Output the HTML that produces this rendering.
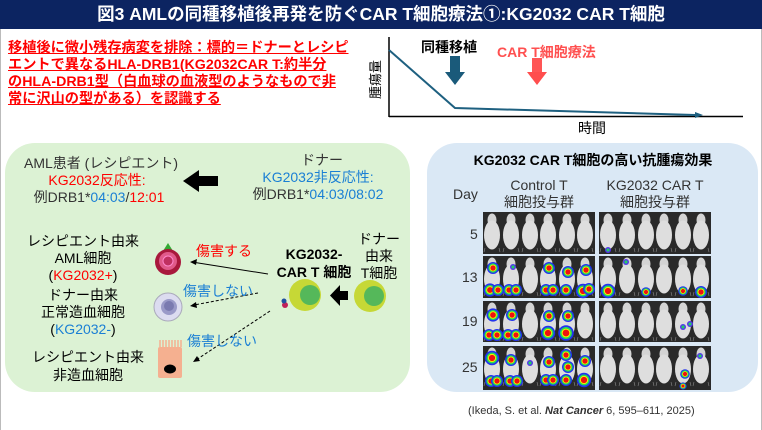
<!DOCTYPE html>
<html><head><meta charset="utf-8">
<style>
body{margin:0;width:762px;height:430px;overflow:hidden;background:#fff;font-family:"Liberation Sans","Noto Sans CJK JP",sans-serif;position:relative}
.hd{position:absolute;left:0;top:0;width:762px;height:29px;background:#0c2461;color:#fff;font-weight:bold;font-size:17.5px;text-align:center;line-height:29px}
.t{position:absolute;white-space:nowrap}
.c{position:absolute;white-space:nowrap;text-align:center;transform:translateX(-50%)}
.red{color:#f00}.blue{color:#1a7fd4}
.lead{position:absolute;left:8px;top:40px;color:#f00;font-weight:bold;font-size:14.2px;line-height:17px;text-decoration:underline}
</style></head><body>
<div class="hd">図3 AMLの同種移植後再発を防ぐCAR T細胞療法①:KG2032 CAR T細胞</div>
<div style="position:absolute;left:0;top:29px;width:1px;height:401px;background:#bbb"></div>
<div style="position:absolute;right:0;top:29px;width:1px;height:401px;background:#bbb"></div>
<div class="lead">移植後に微小残存病変を排除：標的＝ドナーとレシピ<br>エントで異なるHLA-DRB1(KG2032CAR T:約半分<br>のHLA-DRB1型（白血球の血液型のようなもので非<br>常に沢山の型がある）を認識する</div>
<div style="position:absolute;left:5px;top:143px;width:405px;height:249px;background:#dcf2d4;border-radius:30px"></div>
<div style="position:absolute;left:427px;top:143px;width:331px;height:249px;background:#dae8f5;border-radius:30px"></div>

<svg width="762" height="430" style="position:absolute;left:0;top:0">
<defs>
<symbol id="m" viewBox="0 0 18 42" overflow="visible"><ellipse cx="9" cy="8" rx="4.5" ry="6.5" fill="#d4d4d4"/><ellipse cx="9" cy="23" rx="8" ry="14.5" fill="#dedede"/><path d="M2 36 L1 40 M16 36 L17 40" stroke="#888" stroke-width=".6"/></symbol>
<g id="h"><circle r="6" fill="#2233ee"/><circle r="4.6" fill="#22dd55"/><circle r="3.4" fill="#ffee00"/><circle r="2.6" fill="#ee1111"/></g>
<g id="hs"><circle r="3" fill="#5533ee"/><circle r="1.6" fill="#22cc66"/></g>
</defs>
<line x1="389" y1="37" x2="389" y2="117" stroke="#000" stroke-width="1.5"/>
<line x1="389" y1="116.5" x2="743" y2="116.5" stroke="#000" stroke-width="1.5"/>
<polyline points="389,50 455,108 695,115" fill="none" stroke="#1e6080" stroke-width="2"/>
<path d="M695,112 L703,115 L695,118Z" fill="#1e6080"/>
<rect x="450" y="56" width="10" height="17" fill="#1a5a7a"/><path d="M445,72 L465,72 L455,85Z" fill="#1a5a7a"/>
<rect x="532" y="58" width="10" height="15" fill="#ff5555"/><path d="M527,72 L547,72 L537,85Z" fill="#ff4d4d"/>
<rect x="196" y="176" width="22" height="10" fill="#000"/><path d="M199,170 L183,181 L199,192Z" fill="#000"/>
<rect x="338" y="291" width="10" height="9" fill="#000"/><path d="M340,285 L330,295.5 L340,306Z" fill="#000"/>
<line x1="268" y1="274" x2="192" y2="262" stroke="#000" stroke-width="1"/><path d="M190,262 L197,259 L196,265Z" fill="#000"/>
<line x1="258" y1="293" x2="194" y2="305" stroke="#000" stroke-dasharray="3,2"/><path d="M190,306 L196,302 L197,308Z" fill="#000"/>
<line x1="270" y1="311" x2="196" y2="360" stroke="#000" stroke-dasharray="3,2"/><path d="M193,362 L197,356 L200,361Z" fill="#000"/>
<path d="M163,251 L168,243 L173,251Z" fill="#33aa33"/>
<circle cx="168" cy="262" r="13" fill="#a8183c"/><circle cx="168" cy="261" r="9" fill="#e05a8a"/><circle cx="168" cy="261" r="5" fill="#c03060" stroke="#f8c" />
<circle cx="168" cy="307" r="14" fill="#dcdcf0" stroke="#aab" /><circle cx="169" cy="307" r="8" fill="#9a9ac8"/><circle cx="169" cy="306" r="5" fill="#7a7ab0"/>
<rect x="158" y="347" width="24" height="31" rx="2" fill="#f5b090"/><path d="M160,340 v7 M163,340 v7 M166,340 v7 M169,340 v7 M172,340 v7 M175,340 v7 M178,340 v7 M181,340 v7" stroke="#f5b090" stroke-width="1.5"/><ellipse cx="170" cy="369" rx="6" ry="4.5" fill="#000"/>
<circle cx="305" cy="295" r="16" fill="#c6d836"/><circle cx="310" cy="295" r="10" fill="#55b85a"/>
<circle cx="285" cy="305" r="3" fill="#c0205a"/><circle cx="284" cy="301" r="2.5" fill="#2050a0"/>
<circle cx="370" cy="296" r="16" fill="#c6d836"/><circle cx="374" cy="296" r="10" fill="#55b85a"/>
<g>
<rect x="483" y="212" width="112" height="42" fill="#2a2a2a"/><rect x="599" y="212" width="112" height="42" fill="#2a2a2a"/>
<rect x="483" y="256" width="112" height="42" fill="#2a2a2a"/><rect x="599" y="256" width="112" height="42" fill="#2a2a2a"/>
<rect x="483" y="301" width="112" height="41" fill="#2a2a2a"/><rect x="599" y="301" width="112" height="41" fill="#2a2a2a"/>
<rect x="483" y="346" width="112" height="44" fill="#2a2a2a"/><rect x="599" y="346" width="112" height="44" fill="#2a2a2a"/>
</g>
<g id="row">
<use href="#m" x="483" y="212" width="18" height="42"/><use href="#m" x="502" y="212" width="18" height="42"/><use href="#m" x="521" y="212" width="18" height="42"/><use href="#m" x="539" y="212" width="18" height="42"/><use href="#m" x="558" y="212" width="18" height="42"/><use href="#m" x="576" y="212" width="18" height="42"/>
<use href="#m" x="599" y="212" width="18" height="42"/><use href="#m" x="618" y="212" width="18" height="42"/><use href="#m" x="637" y="212" width="18" height="42"/><use href="#m" x="655" y="212" width="18" height="42"/><use href="#m" x="674" y="212" width="18" height="42"/><use href="#m" x="692" y="212" width="18" height="42"/>
</g>
<use href="#row" y="44"/><use href="#row" y="89"/><use href="#row" y="134"/>
<use href="#h" transform="translate(490,290) scale(1.1)"/><use href="#h" transform="translate(498,290)"/><use href="#h" transform="translate(493,268)"/>
<use href="#h" transform="translate(509,290)"/><use href="#h" transform="translate(516,290)"/><use href="#hs" transform="translate(513,267)"/>
<use href="#h" transform="translate(546,290)"/><use href="#h" transform="translate(553,290)"/><use href="#h" transform="translate(549,268)"/>
<use href="#h" transform="translate(566,290)"/><use href="#h" transform="translate(568,272)"/>
<use href="#h" transform="translate(583,291) scale(1.2)"/><use href="#h" transform="translate(589,289)"/><use href="#h" transform="translate(586,270)"/>
<use href="#h" transform="translate(489,335)"/><use href="#h" transform="translate(497,335)"/><use href="#h" transform="translate(493,315) scale(1.1)"/>
<use href="#h" transform="translate(508,335)"/><use href="#h" transform="translate(516,335)"/><use href="#h" transform="translate(512,315)"/>
<use href="#h" transform="translate(548,333) scale(1.2)"/><use href="#h" transform="translate(549,316)"/>
<use href="#h" transform="translate(566,333) scale(1.3)"/><use href="#h" transform="translate(568,316)"/>
<use href="#h" transform="translate(492,358) scale(1.2)"/><use href="#h" transform="translate(491,381)"/><use href="#h" transform="translate(497,381)"/>
<use href="#h" transform="translate(511,360)"/><use href="#h" transform="translate(510,381)"/><use href="#h" transform="translate(517,381)"/>
<use href="#hs" transform="translate(530,363)"/>
<use href="#h" transform="translate(546,380)"/><use href="#h" transform="translate(553,380)"/><use href="#h" transform="translate(549,362)"/>
<use href="#h" transform="translate(566,380)"/><use href="#h" transform="translate(568,367)"/><use href="#h" transform="translate(566,355)"/>
<use href="#h" transform="translate(584,380) scale(1.2)"/><use href="#h" transform="translate(585,361)"/>
<use href="#hs" transform="translate(608,250)"/>
<use href="#h" transform="translate(608,291) scale(1.2)"/><use href="#hs" transform="translate(626,262)"/><use href="#h" transform="translate(646,292) scale(.8)"/><use href="#h" transform="translate(683,291) scale(.8)"/><use href="#h" transform="translate(701,292)"/>
<use href="#hs" transform="translate(683,327)"/><use href="#hs" transform="translate(690,324)"/>
<use href="#h" transform="translate(685,374) scale(.8)"/><use href="#h" transform="translate(683,386) scale(.6)"/><use href="#hs" transform="translate(700,356)"/>
</svg>

<div class="t" style="left:421px;top:37px;font-weight:bold;font-size:14px">同種移植</div>
<div class="t" style="left:497px;top:42px;font-weight:bold;font-size:14px;color:#ff5050">CAR T細胞療法</div>
<div class="t" style="left:355px;top:70px;font-size:13px;transform:rotate(-90deg)">腫瘍量</div>
<div class="t" style="left:578px;top:118px;font-size:14px">時間</div>

<div style="font-size:14px;color:#333">
<div class="c" style="left:101px;top:153px">AML患者 (レシピエント)</div>
<div class="c red" style="left:97px;top:170px">KG2032反応性:</div>
<div class="c" style="left:99px;top:187px">例DRB1*<span class="blue">04:03</span>/<span class="red">12:01</span></div>
<div class="c" style="left:322px;top:150px">ドナー</div>
<div class="c blue" style="left:318px;top:167px">KG2032非反応性:</div>
<div class="c" style="left:318px;top:184px">例DRB1*<span class="blue">04:03/08:02</span></div>
<div class="c" style="left:83px;top:233px;color:#000;line-height:17px">レシピエント由来<br>AML細胞<br>(<span class="red">KG2032+</span>)</div>
<div class="c" style="left:83px;top:287px;color:#000;line-height:17px">ドナー由来<br>正常造血細胞<br>(<span class="blue">KG2032-</span>)</div>
<div class="c" style="left:88px;top:348px;color:#000;line-height:18px">レシピエント由来<br>非造血細胞</div>
<div class="t red" style="left:196px;top:241px">傷害する</div>
<div class="c" style="left:314px;top:245px;color:#000;font-weight:bold;line-height:18px">KG2032-<br>CAR T 細胞</div>
<div class="c" style="left:379px;top:231px;color:#000;line-height:17px">ドナー<br>由来<br>T細胞</div>
<div class="t blue" style="left:183px;top:281px">傷害しない</div>
<div class="t blue" style="left:187px;top:331px">傷害しない</div>
<div class="c" style="left:593px;top:150px;color:#000;font-weight:bold">KG2032 CAR T細胞の高い抗腫瘍効果</div>
<div class="t" style="left:453px;top:186px">Day</div>
<div class="c" style="left:539px;top:177px;line-height:17px">Control T<br>細胞投与群</div>
<div class="c" style="left:655px;top:177px;line-height:17px">KG2032 CAR T<br>細胞投与群</div>
<div class="t" style="left:470px;top:226px">5</div>
<div class="t" style="left:462px;top:269px">13</div>
<div class="t" style="left:462px;top:313px">19</div>
<div class="t" style="left:462px;top:359px">25</div>
</div>
<div class="t" style="left:468px;top:405px;font-size:11px;color:#333">(Ikeda, S. et al. <b><i>Nat Cancer</i></b> 6, 595–611, 2025)</div>
</body></html>
